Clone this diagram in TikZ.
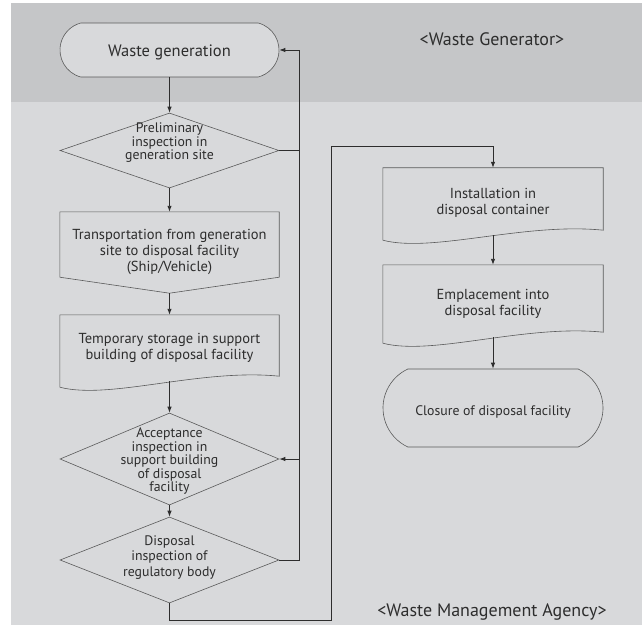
\documentclass[tikz,border=0pt]{standalone}
\usepackage{fontspec}
\setmainfont{PT Sans}
\usetikzlibrary{arrows.meta}
\usetikzlibrary{shapes.geometric,shapes.misc}
\usetikzlibrary{positioning}
\usetikzlibrary{calc}
\definecolor{bandtop}{RGB}{197,198,200}
\definecolor{bandlow}{RGB}{216,217,219}
\definecolor{ink}{RGB}{45,45,45}
\definecolor{rim}{RGB}{90,90,90}

% outline of a box with a wavy lower edge
\newcommand{\wavebox}[2]{%
	\filldraw[outline] ($(#1.south west)+(0,-#2)$) -- (#1.north west) -- (#1.north east) -- (#1.south east)
		.. controls +(-79,8) and +(50,-13) .. ($(#1.south west)+(0,-#2)$) -- cycle;}

\begin{document}
\begin{tikzpicture}[x=1pt,y=1pt,>={Latex[length=6pt,width=4.5pt]},
		outline/.style={draw=rim, line width=0.6pt, fill=bandlow},
		shapebox/.style={rectangle, minimum width=219pt, inner sep=0pt},
		decision/.style={diamond, outline, inner sep=0pt, minimum width=219pt},
		terminal/.style={rounded rectangle, outline, inner sep=0pt},
		boxtext/.style={align=center, text=ink, font=\fontsize{14.5}{16}\selectfont},
		dectext/.style={align=center, text=ink, font=\fontsize{13.8}{13.5}\selectfont},
		flow/.style={->, draw=ink, line width=0.9pt},
		line/.style={draw=ink, line width=0.9pt},
		zone/.style={text=ink, font=\fontsize{18}{21}\selectfont}]
	\useasboundingbox (0,0) rectangle (642,625);
	
	% draw background bands
	\fill[white] (0,0) rectangle (642,625);
	\fill[bandlow] (11,0) rectangle (642,523);
	\fill[bandtop] (11,523) rectangle (642,622);
	\node[zone] (gentag) at (492,586) {<Waste Generator>};
	\node[zone] (agencytag) at (492,13) {<Waste Management Agency>};
	
	% draw left column shapes
	\node[terminal, minimum width=219pt, minimum height=54pt, rounded rectangle arc length=150] (gen) at (169.5,575) {};
	\node[decision, minimum height=75pt] (prelim) at (169.5,474.5) {};
	\node[shapebox, minimum height=65pt] (trans) at (169.5,380.5) {};
	\filldraw[outline] (trans.north west) -- (trans.north east) -- (trans.south east)
		-- ([yshift=-16pt]trans.south) -- (trans.south west) -- cycle;
	\node[shapebox, minimum height=61pt] (store) at (169.5,279.5) {};
	\wavebox{store}{11}
	\node[decision, minimum height=92pt] (accept) at (169.5,166) {};
	\node[decision, minimum height=86pt] (regul) at (169.5,65) {};
	
	% draw right column shapes
	\node[shapebox, minimum width=220pt, minimum height=62pt] (install) at (493,426) {};
	\wavebox{install}{10}
	\node[shapebox, minimum width=220pt, minimum height=67pt] (emplace) at (493,326.5) {};
	\wavebox{emplace}{11}
	\node[terminal, minimum width=220pt, minimum height=78pt, rounded rectangle arc length=130] (closure) at (493,217) {};
	
	% draw texts
	\node[boxtext, font=\fontsize{16.5}{18}\selectfont] (gentxt) at (169.5,573) {Waste generation};
	\node[dectext] (prelimtxt) at (169.5,482) {Preliminary\\inspection in\\generation site};
	\node[boxtext] (transtxt) at (169.5,373) {Transportation from generation\\site to disposal facility\\(Ship/Vehicle)};
	\node[boxtext] (storetxt) at (169.5,277) {Temporary storage in support\\building of disposal facility};
	\node[dectext] (accepttxt) at (169.5,163.5) {Acceptance\\inspection in\\support building\\of disposal\\facility};
	\node[dectext, font=\fontsize{13.8}{15.5}\selectfont] (regultxt) at (169.5,67.5) {Disposal\\inspection of\\regulatory body};
	\node[boxtext] (installtxt) at (493,422.5) {Installation in\\disposal container};
	\node[boxtext] (emplacetxt) at (493,321.5) {Emplacement into\\disposal facility};
	\node[boxtext, font=\fontsize{13.8}{15.5}\selectfont] (closuretxt) at (493,213) {Closure of disposal facility};
	
	% draw main flow
	\draw[flow] (gen.south) -- (prelim.north);
	\draw[flow] (prelim.south) -- (trans.north);
	\draw[flow] ([yshift=-16pt]trans.south) -- (store.north);
	\draw[flow] ([yshift=-5pt]store.south) -- (accept.north);
	\draw[flow] (accept.south) -- (regul.north);
	\draw[flow] ([yshift=-5pt]install.south) -- (emplace.north);
	\draw[flow] ([yshift=-5pt]emplace.south) -- (closure.north);
	
	% draw return paths
	\coordinate (rail) at (299,0);
	\draw[flow] (prelim.east) -| (rail |- gen.east) -- (gen.east);
	\draw[flow] (regul.east) -| (rail |- accept.east) -- (accept.east);
	\draw[line] (rail |- accept.east) -- (rail |- prelim.east);
	
	% draw crossing to the agency side
	\coordinate (low) at (331,5);
	\coordinate (high) at (331,479);
	\draw[flow] (regul.south) |- (low) -- (high) -| (install.north);
\end{tikzpicture}
\end{document}
